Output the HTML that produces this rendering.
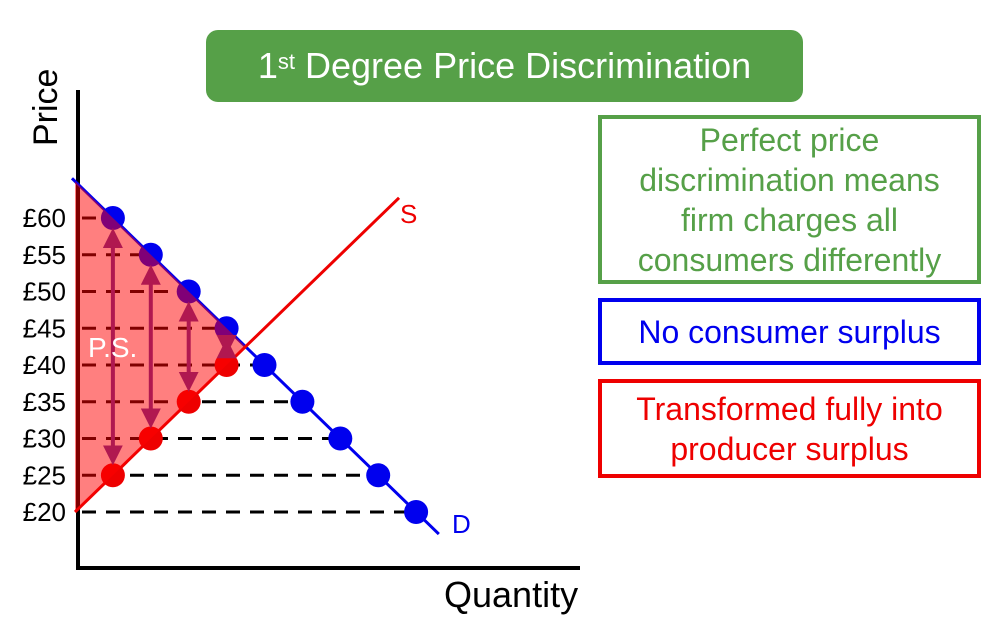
<!DOCTYPE html>
<html><head><meta charset="utf-8"><style>
body{margin:0;width:981px;height:639px;background:#fff;overflow:hidden;font-family:"Liberation Sans",sans-serif;position:relative}
.box{position:absolute;box-sizing:border-box;text-align:center;font-size:32px;line-height:40px;display:flex;align-items:center;justify-content:center;white-space:nowrap}
</style></head><body>
<div class="box" style="left:206px;top:30px;width:597px;height:72px;background:#56a048;border-radius:12px;color:#fff;font-size:36px">1<sup style="font-size:22px;position:relative;top:-4px">st</sup>&nbsp;Degree Price Discrimination</div>
<div class="box" style="left:598px;top:115px;width:383px;height:169px;border:4px solid #56a048;color:#56a048">Perfect price<br>discrimination means<br>firm charges all<br>consumers differently</div>
<div class="box" style="left:598px;top:298px;width:383px;height:67px;border:4px solid #0000ee;color:#0000ee">No consumer surplus</div>
<div class="box" style="left:598px;top:379px;width:383px;height:99px;border:4px solid #ee0000;color:#ee0000">Transformed fully into<br>producer surplus</div>
<svg id="chart" width="981" height="639" style="position:absolute;left:0;top:0"></svg>
<script>
const prices=[60,55,50,45,40,35,30,25,20];
const demandQ=[1,2,3,4,5,6,7,8,9];
const supplyQ=[1,2,3,4];
const supplyP=[25,30,35,40];
const demandIntercept=65, demandSlope=-5, supplyIntercept=20, supplySlope=5;
const X=q=>75+37.9*q, Y=p=>512-(p-20)*7.35;
const svg=document.getElementById('chart');const NS='http://www.w3.org/2000/svg';
function mk(t,a,name){const e=document.createElementNS(NS,t);for(const k in a)e.setAttribute(k,a[k]);


svg.appendChild(e);return e;}
const defs=document.createElementNS(NS,'defs');defs.innerHTML='<marker id="ah" markerWidth="5" markerHeight="5" refX="3.5" refY="2.5" orient="auto-start-reverse" markerUnits="strokeWidth"><path d="M0,0L5,2.5L0,5z" fill="#b01850"/></marker>';svg.appendChild(defs);
prices.forEach((p,i)=>{mk('line',{x1:82,y1:Y(p),x2:X(demandQ[i]),y2:Y(p),stroke:'#000','stroke-width':3,'stroke-dasharray':'14 10'},'price-gridline-'+p);});
mk('line',{x1:78,y1:90,x2:78,y2:570,stroke:'#000','stroke-width':4},'y-axis');
mk('line',{x1:76,y1:568,x2:580,y2:568,stroke:'#000','stroke-width':4},'x-axis');
const dq1=(17-demandIntercept)/demandSlope;
mk('line',{x1:X(-0.08),y1:Y(demandIntercept+0.4),x2:X(dq1),y2:Y(17),stroke:'#0000ee','stroke-width':3},'demand-curve');
mk('line',{x1:X(0),y1:Y(supplyIntercept),x2:X(8.55),y2:Y(supplyIntercept+5*8.55),stroke:'#ee0000','stroke-width':3},'supply-curve');
prices.forEach((p,i)=>mk('circle',{cx:X(demandQ[i]),cy:Y(p),r:12,fill:'#0000ee'},'demand-point-'+p));
supplyQ.forEach((q,i)=>mk('circle',{cx:X(q),cy:Y(supplyP[i]),r:12,fill:'#ee0000'},'supply-point-'+supplyP[i]));
const qe=(demandIntercept-supplyIntercept)/(supplySlope-demandSlope),pe=supplyIntercept+supplySlope*qe;
mk('polygon',{points:`${X(0)},${Y(demandIntercept)} ${X(0)},${Y(supplyIntercept)} ${X(qe)},${Y(pe)}`,fill:'rgba(255,0,0,0.5)'},'producer-surplus-area');
supplyQ.forEach((q,i)=>{const pd=demandIntercept+demandSlope*q;mk('line',{x1:X(q),y1:Y(pd)+16,x2:X(q),y2:Y(supplyP[i])-16,stroke:'#b01850','stroke-width':4,'marker-start':'url(#ah)','marker-end':'url(#ah)'},'surplus-arrow-'+q);});
prices.forEach(p=>{const t=mk('text',{x:66,y:Y(p)+9,'text-anchor':'end','font-size':26,fill:'#000','font-family':'Liberation Sans'},'y-tick-'+p);t.textContent='£'+p;});
let t=mk('text',{x:0,y:0,transform:'translate(57,146) rotate(-90)','font-size':34,fill:'#000','font-family':'Liberation Sans'},'y-axis-title');t.textContent='Price';
t=mk('text',{x:444,y:607,'font-size':36,fill:'#000','font-family':'Liberation Sans'},'x-axis-title');t.textContent='Quantity';
t=mk('text',{x:400,y:223,'font-size':26,fill:'#ee0000','font-family':'Liberation Sans'},'supply-label');t.textContent='S';
t=mk('text',{x:452,y:533,'font-size':26,fill:'#0000ee','font-family':'Liberation Sans'},'demand-label');t.textContent='D';
t=mk('text',{x:88,y:357,'font-size':28,fill:'#fff','font-family':'Liberation Sans'},'ps-label');t.textContent='P.S.';
</script>
</body></html>
